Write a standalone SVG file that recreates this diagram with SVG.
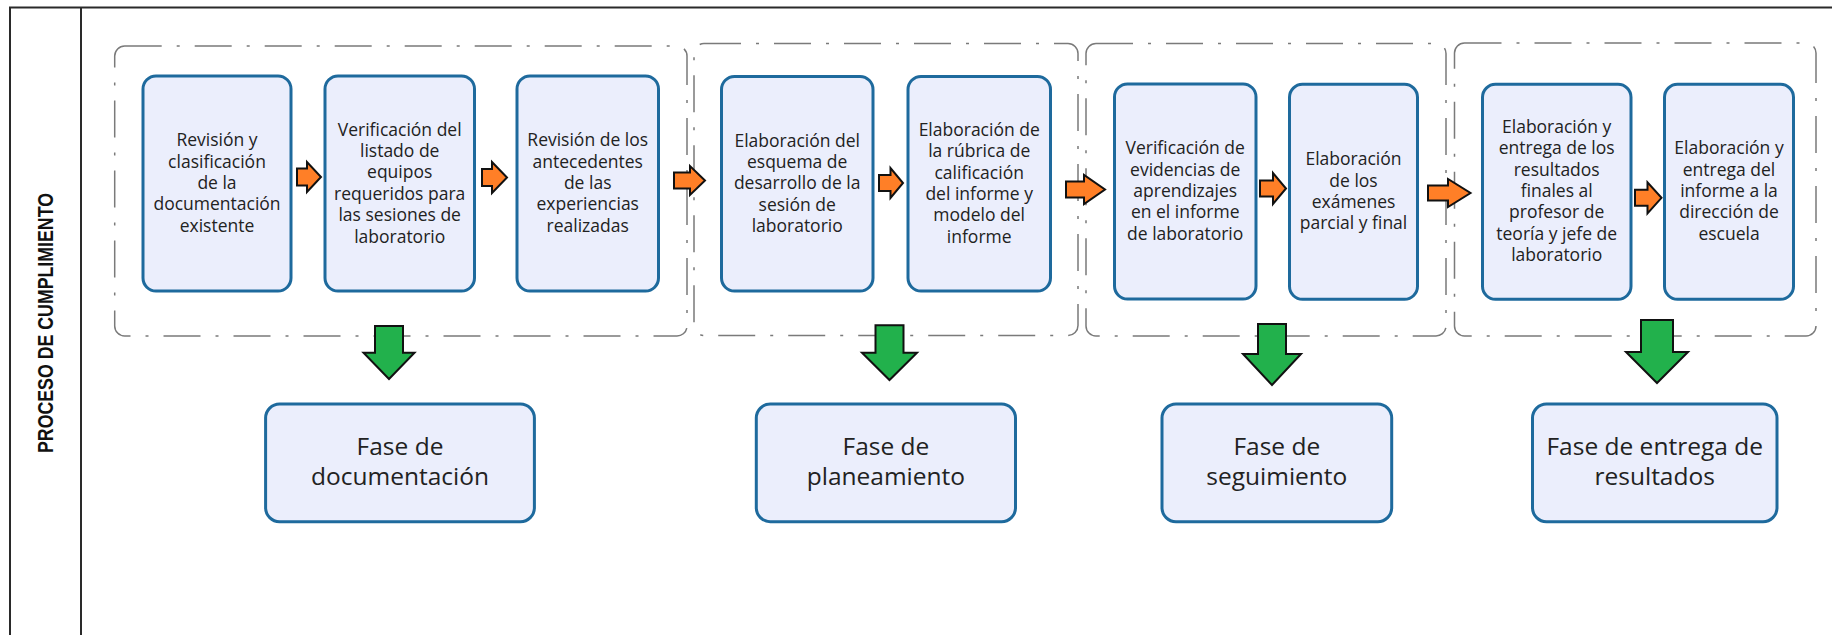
<svg xmlns="http://www.w3.org/2000/svg" width="1832" height="635" viewBox="0 0 1832 635">
<style>
.frame{fill:none;stroke:#2a2a2a;stroke-width:2}
.grp{fill:none;stroke:#7a7a7a;stroke-width:1.5;stroke-dasharray:37 15 3 15}
.box{fill:#EBEEFC;stroke:#1E6A9D;stroke-width:3}
.t{font-family:"Open Sans","Noto Sans",sans-serif;font-size:17.5px;fill:#222;text-anchor:middle}
.tp{font-family:"Open Sans","Noto Sans",sans-serif;font-size:24.5px;fill:#222;text-anchor:middle}
.lane{font-family:"Liberation Sans","DejaVu Sans",sans-serif;font-weight:bold;font-size:22px;fill:#111;text-anchor:middle}
.oa{fill:#FF7F27;stroke:#111;stroke-width:2;stroke-linejoin:miter}
.ga{fill:#22B14C;stroke:#111;stroke-width:2;stroke-linejoin:miter}
</style>
<rect width="1832" height="635" fill="#ffffff"/>
<g id="lane">
<path class="frame" d="M10,635 V7.5 H1832 M81,7.5 V635"/>
<text class="lane" transform="translate(52.5,323) rotate(-90)" textLength="260" lengthAdjust="spacingAndGlyphs">PROCESO DE CUMPLIMIENTO</text>
</g>
<g id="groups">
<rect class="grp" x="114.7" y="46" width="572.3" height="290" rx="10"/>
<rect class="grp" x="694" y="43.5" width="384" height="292" rx="10"/>
<rect class="grp" x="1086" y="43.5" width="360" height="292.5" rx="10"/>
<rect class="grp" x="1454.5" y="43" width="361.5" height="293" rx="10"/>
</g>
<g id="b1"><rect class="box" x="143" y="76" width="148" height="215" rx="13"/>
<text class="t"><tspan x="217" y="146.2">Revisión y</tspan><tspan x="217" y="167.6">clasificación</tspan><tspan x="217" y="189">de la</tspan><tspan x="217" y="210.4">documentación</tspan><tspan x="217" y="231.8">existente</tspan></text></g>
<g id="b2"><rect class="box" x="325" y="76" width="149.5" height="215" rx="13"/>
<text class="t"><tspan x="399.7" y="135.5">Verificación del</tspan><tspan x="399.7" y="156.9">listado de</tspan><tspan x="399.7" y="178.3">equipos</tspan><tspan x="399.7" y="199.7">requeridos para</tspan><tspan x="399.7" y="221.1">las sesiones de</tspan><tspan x="399.7" y="242.5">laboratorio</tspan></text></g>
<g id="b3"><rect class="box" x="517" y="76" width="141.5" height="215" rx="13"/>
<text class="t"><tspan x="587.7" y="146.2">Revisión de los</tspan><tspan x="587.7" y="167.6">antecedentes</tspan><tspan x="587.7" y="189">de las</tspan><tspan x="587.7" y="210.4">experiencias</tspan><tspan x="587.7" y="231.8">realizadas</tspan></text></g>
<g id="b4"><rect class="box" x="721.5" y="76.5" width="151.5" height="214.5" rx="13"/>
<text class="t"><tspan x="797.2" y="146.5">Elaboración del</tspan><tspan x="797.2" y="167.9">esquema de</tspan><tspan x="797.2" y="189.3">desarrollo de la</tspan><tspan x="797.2" y="210.7">sesión de</tspan><tspan x="797.2" y="232.1">laboratorio</tspan></text></g>
<g id="b5"><rect class="box" x="908" y="76.5" width="142.5" height="214.5" rx="13"/>
<text class="t"><tspan x="979.2" y="135.8">Elaboración de</tspan><tspan x="979.2" y="157.2">la rúbrica de</tspan><tspan x="979.2" y="178.6">calificación</tspan><tspan x="979.2" y="200">del informe y</tspan><tspan x="979.2" y="221.4">modelo del</tspan><tspan x="979.2" y="242.8">informe</tspan></text></g>
<g id="b6"><rect class="box" x="1114.5" y="84" width="141.5" height="215" rx="13"/>
<text class="t"><tspan x="1185.2" y="154.2">Verificación de</tspan><tspan x="1185.2" y="175.6">evidencias de</tspan><tspan x="1185.2" y="197">aprendizajes</tspan><tspan x="1185.2" y="218.4">en el informe</tspan><tspan x="1185.2" y="239.8">de laboratorio</tspan></text></g>
<g id="b7"><rect class="box" x="1289.5" y="84.3" width="128" height="215" rx="13"/>
<text class="t"><tspan x="1353.5" y="165.1">Elaboración</tspan><tspan x="1353.5" y="186.5">de los</tspan><tspan x="1353.5" y="207.9">exámenes</tspan><tspan x="1353.5" y="229.3">parcial y final</tspan></text></g>
<g id="b8"><rect class="box" x="1482.5" y="84.3" width="148.5" height="215" rx="13"/>
<text class="t"><tspan x="1556.7" y="132.8">Elaboración y</tspan><tspan x="1556.7" y="154.2">entrega de los</tspan><tspan x="1556.7" y="175.6">resultados</tspan><tspan x="1556.7" y="197">finales al</tspan><tspan x="1556.7" y="218.4">profesor de</tspan><tspan x="1556.7" y="239.8">teoría y jefe de</tspan><tspan x="1556.7" y="261.2">laboratorio</tspan></text></g>
<g id="b9"><rect class="box" x="1664.5" y="84.3" width="129" height="215" rx="13"/>
<text class="t"><tspan x="1729" y="154.2">Elaboración y</tspan><tspan x="1729" y="175.6">entrega del</tspan><tspan x="1729" y="197">informe a la</tspan><tspan x="1729" y="218.4">dirección de</tspan><tspan x="1729" y="239.8">escuela</tspan></text></g>
<g id="p1"><rect class="box" x="265.6" y="404" width="268.8" height="117.7" rx="14"/>
<text class="tp"><tspan x="400" y="454.6">Fase de</tspan><tspan x="400" y="485.2">documentación</tspan></text></g>
<g id="p2"><rect class="box" x="756.3" y="404" width="259.2" height="117.7" rx="14"/>
<text class="tp"><tspan x="885.9" y="454.6">Fase de</tspan><tspan x="885.9" y="485.2">planeamiento</tspan></text></g>
<g id="p3"><rect class="box" x="1162" y="404" width="229.7" height="117.7" rx="14"/>
<text class="tp"><tspan x="1276.8" y="454.6">Fase de</tspan><tspan x="1276.8" y="485.2">seguimiento</tspan></text></g>
<g id="p4"><rect class="box" x="1532.5" y="404" width="244.5" height="117.7" rx="14"/>
<text class="tp"><tspan x="1654.7" y="454.6">Fase de entrega de</tspan><tspan x="1654.7" y="485.2">resultados</tspan></text></g>
<g id="connectors">
<path class="oa" d="M297,168.5 H307 V162 L321,177 L307,192 V185.5 H297 Z"/>
<path class="oa" d="M482,169 H492 V162 L507,177.5 L492,193 V186 H482 Z"/>
<path class="oa" d="M674,172.5 H690 V166 L705,180.5 L690,195 V188.5 H674 Z"/>
<path class="oa" d="M879,175 H890.5 V168 L903,183 L890.5,198 V191 H879 Z"/>
<path class="oa" d="M1066,181.5 H1084 V175 L1105,189.5 L1084,204 V197.5 H1066 Z"/>
<path class="oa" d="M1260,180.5 H1273 V173 L1286,188.5 L1273,204 V196.5 H1260 Z"/>
<path class="oa" d="M1428,185.5 H1448 V179 L1470.5,193 L1448,207 V200.5 H1428 Z"/>
<path class="oa" d="M1635,189.8 H1647.5 V182.3 L1661.5,197.8 L1647.5,213.3 V205.8 H1635 Z"/>
<path class="ga" d="M375,326 H403 V352.7 H414.5 L389,379 L363.5,352.7 H375 Z"/>
<path class="ga" d="M875.5,325.3 H903.5 V352.7 H917 L889.5,380 L862,352.7 H875.5 Z"/>
<path class="ga" d="M1258,324 H1286 V354 H1301 L1272,385 L1243,354 H1258 Z"/>
<path class="ga" d="M1641,320 H1673 V352 H1688 L1657,383 L1626,352 H1641 Z"/>
</g>
</svg>
